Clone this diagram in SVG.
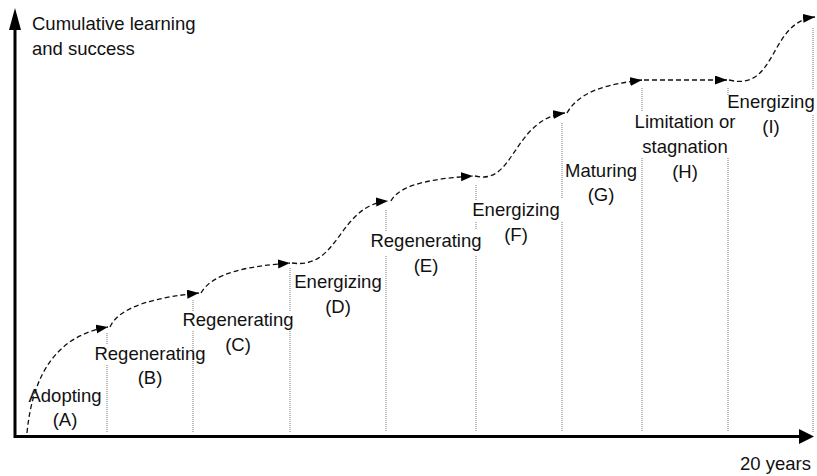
<svg xmlns="http://www.w3.org/2000/svg" width="817" height="476" viewBox="0 0 817 476">
<style>
text{font-family:"Liberation Sans",Arial,sans-serif;font-size:18.5px;fill:#111}
.lbl{text-anchor:middle}
.grid{stroke:#777;stroke-width:1;stroke-dasharray:1 1;fill:none}
.curve{stroke:#111;stroke-width:1.3;stroke-dasharray:5 3;fill:none;marker-end:url(#ah)}
.axis{stroke:#000;stroke-width:3;fill:none}
</style>
<defs>
<marker id="ah" markerUnits="userSpaceOnUse" markerWidth="13" markerHeight="10" refX="12" refY="4.5" orient="auto">
<path d="M0,0 L12,4.5 L0,9 z" fill="#000"/>
</marker>
</defs>
<rect width="817" height="476" fill="#fff"/>
<g id="grid">
<path class="grid" d="M107,333V344M107,365V432"/>
<path class="grid" d="M193,300V311M193,331V432"/>
<path class="grid" d="M290,268V311M290,331V432"/>
<path class="grid" d="M386,210V231M386,256V432"/>
<path class="grid" d="M476,185V200M476,222V230M476,256V432"/>
<path class="grid" d="M562,123V198M562,222V432"/>
<path class="grid" d="M642,88V112M642,158V432"/>
<path class="grid" d="M728,88V96M728,158V432"/>
<path class="grid" d="M813,28V90M813,115V432"/>
</g>
<g id="axes">
<path class="axis" d="M15,438V28"/>
<path d="M15,8 L9,30 L21,30 z" fill="#000"/>
<path class="axis" d="M14,436.5H800"/>
<path d="M814,436.5 L799,429 L799,444 z" fill="#000"/>
</g>
<g id="connectors">
<path class="curve" d="M27,433 C33,370 60,335 108,327"/>
<path class="curve" d="M110,327 C120,305 160,297 199,293"/>
<path class="curve" d="M201,293 C213,272 250,266 290,263"/>
<path class="curve" d="M292,263 C340,270 338,205 388,201"/>
<path class="curve" d="M391,201 C400,183 440,178 473,176"/>
<path class="curve" d="M475,176 C515,186 512,120 565,113"/>
<path class="curve" d="M567,113 C580,90 610,84 642,80"/>
<path class="curve" d="M644,80 H727"/>
<path class="curve" d="M729,80 C778,92 768,22 815,17"/>
</g>
<g id="axis-labels">
<text x="32" y="30">Cumulative learning</text>
<text x="32" y="55">and success</text>
<text x="811" y="470" text-anchor="end">20 years</text>
</g>
<g id="node-A"><text class="lbl" x="65" y="402">Adopting</text><text class="lbl" x="65" y="426">(A)</text></g>
<g id="node-B"><text class="lbl" x="150" y="360">Regenerating</text><text class="lbl" x="150" y="384">(B)</text></g>
<g id="node-C"><text class="lbl" x="238" y="326">Regenerating</text><text class="lbl" x="238" y="351">(C)</text></g>
<g id="node-D"><text class="lbl" x="338" y="288">Energizing</text><text class="lbl" x="338" y="313">(D)</text></g>
<g id="node-E"><text class="lbl" x="426" y="247">Regenerating</text><text class="lbl" x="426" y="272">(E)</text></g>
<g id="node-F"><text class="lbl" x="516" y="216">Energizing</text><text class="lbl" x="516" y="241">(F)</text></g>
<g id="node-G"><text class="lbl" x="601" y="177">Maturing</text><text class="lbl" x="601" y="201">(G)</text></g>
<g id="node-H"><text class="lbl" x="685" y="128">Limitation or</text><text class="lbl" x="685" y="153">stagnation</text><text class="lbl" x="685" y="178">(H)</text></g>
<g id="node-I"><text class="lbl" x="771" y="108">Energizing</text><text class="lbl" x="771" y="133">(I)</text></g>
</svg>
